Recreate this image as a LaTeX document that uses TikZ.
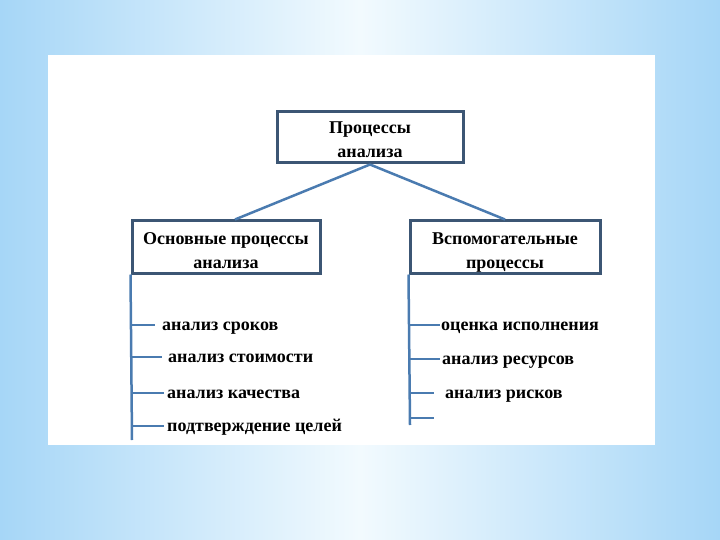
\documentclass[tikz,border=0pt]{standalone}
\usepackage{fontspec}
\setmainfont{Liberation Serif}
\usetikzlibrary{calc}

\definecolor{bgblue}{HTML}{A6D6F7}
\definecolor{bglight}{HTML}{F2FAFE}
\definecolor{boxline}{HTML}{3C5674}
\definecolor{linkblue}{HTML}{4A7BB0}

\tikzset{
    procbox/.style={draw=boxline, line width=3pt, fill=white, align=center,
        font=\fontsize{18}{24}\selectfont\bfseries, inner sep=0pt,
        text height=42pt, text depth=0pt},
    item/.style={anchor=west, inner sep=0pt, text height=12pt, text depth=4pt,
        font=\fontsize{18}{20}\selectfont\bfseries},
    link/.style={draw=linkblue, line width=2.5pt}
}

\begin{document}
\begin{tikzpicture}[x=1pt,y=-1pt]
\useasboundingbox (0,0) rectangle (720,540);
\shade[left color=bgblue, right color=bgblue, middle color=bglight] (0,0) rectangle (720,540);
\fill[white] (48,55) rectangle (655,445);

\node[procbox, minimum width=186pt, minimum height=51pt, text height=40pt] (top) at (370,137.5) {Процессы\\анализа};
\node[procbox, minimum width=188pt, minimum height=52pt] (basic) at (226,247) {Основные процессы\\анализа};
\node[procbox, minimum width=190pt, minimum height=52pt] (aux) at (505,247) {Вспомогательные\\процессы};

\draw[link] (top.south) -- ([xshift=9pt]basic.north);
\draw[link] (top.south) -- (aux.north);

% left branch
\coordinate (lend) at (132,440);
\draw[link] (basic.south west) -- (lend);
\foreach \y/\a/\b/\txt [count=\i] in {325/155/162/анализ сроков, 357/162/168/анализ стоимости,
        393/164/167/анализ качества, 426/164/167/подтверждение целей} {
    \node[item] (l\i) at (\b,\y+1) {\txt};
    \draw[link] (132,\y) -- (\a,\y);
}

% right branch
\coordinate (rend) at (410,425);
\draw[link] (aux.south west) -- (rend);
\foreach \y/\a/\b/\txt [count=\i] in {325/440/441/оценка исполнения, 359/440/442/анализ ресурсов,
        393/434/445/анализ рисков} {
    \node[item] (r\i) at (\b,\y+1) {\txt};
    \draw[link] (410,\y) -- (\a,\y);
}
\coordinate (r4) at (434,418);
\draw[link] (410,418) -- (r4);
\end{tikzpicture}
\end{document}
